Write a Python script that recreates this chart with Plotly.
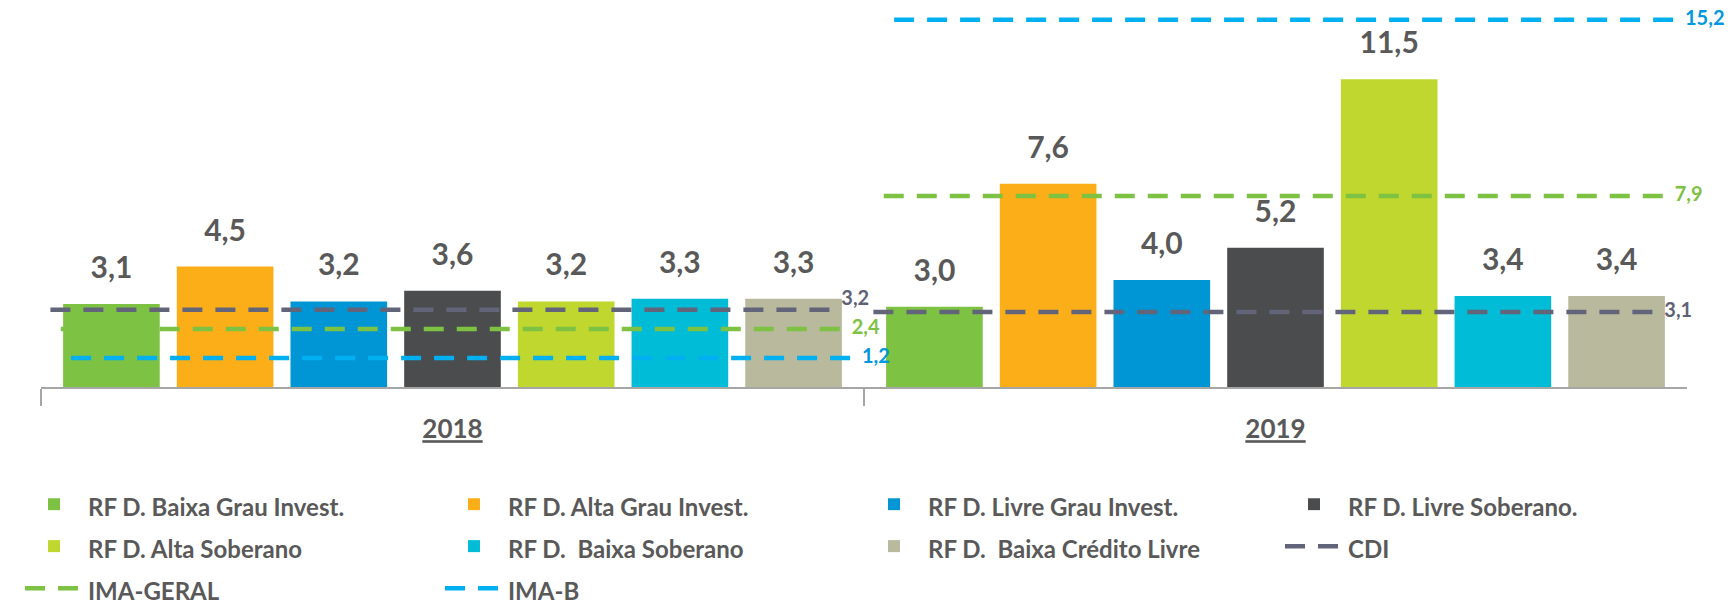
import plotly.graph_objects as go

# ---- data ----
years = ["2018", "2019"]
year_labels = ["<b><u>2018</u></b>", "<b><u>2019</u></b>"]

bar_names = [
    "RF D. Baixa Grau Invest.",
    "RF D. Alta Grau Invest.",
    "RF D. Livre Grau Invest.",
    "RF D. Livre Soberano.",
    "RF D. Alta Soberano",
    "RF D.\u00a0 Baixa Soberano",
    "RF D.\u00a0 Baixa Crédito Livre",
]
baixa_grau = [3.1, 3.0]
alta_grau = [4.5, 7.6]
livre_grau = [3.2, 4.0]
livre_soberano = [3.6, 5.2]
alta_soberano = [3.2, 11.5]
baixa_soberano = [3.3, 3.4]
baixa_credito = [3.3, 3.4]
bar_values = [baixa_grau, alta_grau, livre_grau, livre_soberano,
              alta_soberano, baixa_soberano, baixa_credito]

line_names = ["CDI", "IMA-GERAL", "IMA-B"]
cdi = [3.2, 3.1]
ima_geral = [2.4, 7.9]
ima_b = [1.2, 15.2]
line_values = [cdi, ima_geral, ima_b]

# ---- styles ----
bar_colors = ["#7DC242", "#FBAE17", "#0096D6", "#4B4C4E",
              "#C0D72F", "#00BCD6", "#B8B99D"]
line_colors = ["#62657A", "#7DC242", "#00B0F0"]
label_colors = ["#5F6276", "#7DC242", "#0099DD"]
label_positions = [["top right", "middle right"],
                   ["middle right", "middle right"],
                   ["middle right", "middle right"]]
FONT = "Lato, Carlito, Calibri, sans-serif"
TXT = "#595959"
LEFT_EXT, RIGHT_EXT = 0.476, 0.485
X_DOMAIN = [41 / 1733, 1687 / 1733]


def fmt(v):
    return f"{v:.1f}".replace(".", ",")


fig = go.Figure()

for name, vals, col in zip(bar_names, bar_values, bar_colors):
    fig.add_trace(go.Bar(
        x=years, y=vals, name=f"<span style='font-size:24px'>{name}</span>",
        marker=dict(color=col, line=dict(width=0)),
        offsetgroup=name, hoverinfo="skip",
    ))

# value labels above bars (grouped scatter aligned with the bars)
for name, vals in zip(bar_names, bar_values):
    fig.add_trace(go.Scatter(
        x=years, y=vals, mode="markers+text",
        text=[fmt(v) for v in vals], textposition="top center",
        textfont=dict(family=FONT, size=30, color=TXT, weight="bold"),
        marker=dict(size=28, opacity=0),
        offsetgroup=name, showlegend=False, cliponaxis=False, hoverinfo="skip",
    ))

# benchmark lines: horizontal segments per year on overlay axes
for name, vals, col, lcol, pos in zip(line_names, line_values, line_colors,
                                      label_colors, label_positions):
    xs, ys, ts, ps = [], [], [], []
    for i, v in enumerate(vals):
        xs += [i - LEFT_EXT, i + RIGHT_EXT, None]
        ys += [v, v, None]
        ts += ["", fmt(v), ""]
        ps += ["middle right", pos[i], "middle right"]
    fig.add_trace(go.Scatter(
        x=xs, y=ys, xaxis="x2", yaxis="y2", mode="lines+text",
        name=f"<span style='font-size:24px'>{name}</span>",
        line=dict(color=col, width=4.5, dash="20px,13px"),
        text=ts, textposition=ps,
        textfont=dict(family=FONT, size=20, color=lcol, weight="bold"),
        cliponaxis=False, hoverinfo="skip",
    ))

fig.update_layout(
    width=1733, height=606,
    margin=dict(l=0, r=0, t=10, b=219),
    paper_bgcolor="white", plot_bgcolor="white",
    barmode="group", bargap=0.033, bargroupgap=0.15,
    scattermode="group",
    separators=",.",
    font=dict(family=FONT, color=TXT),
    showlegend=True,
    legend=dict(
        orientation="h", xref="container", yref="container",
        x=20 / 1733, xanchor="left", y=0.211, yanchor="top",
        entrywidth=347, entrywidthmode="pixels", itemwidth=58,
        font=dict(family=FONT, size=30, color=TXT, weight="bold"),
        traceorder="normal",
    ),
    xaxis=dict(
        domain=X_DOMAIN,
        type="category", categoryorder="array", categoryarray=years,
        tickmode="array", tickvals=years, ticktext=year_labels,
        range=[-0.5, 1.5], showline=True, linecolor="#A6A6A6", linewidth=2,
        ticks="outside", tickson="boundaries", ticklen=17, tickcolor="#A6A6A6",
        tickwidth=2, showgrid=False, zeroline=False,
        tickfont=dict(family=FONT, size=26, color=TXT),
        ticklabelstandoff=18,
    ),
    xaxis2=dict(domain=X_DOMAIN, overlaying="x", range=[-0.5, 1.5], visible=False),
    yaxis=dict(range=[0, 14.09], visible=False, showgrid=False, zeroline=False),
    yaxis2=dict(overlaying="y", range=[0, 15.6], visible=False,
                showgrid=False, zeroline=False),
)

fig.write_html("out.html", config={"displayModeBar": False},
               post_script="document.body.style.margin='0';")
